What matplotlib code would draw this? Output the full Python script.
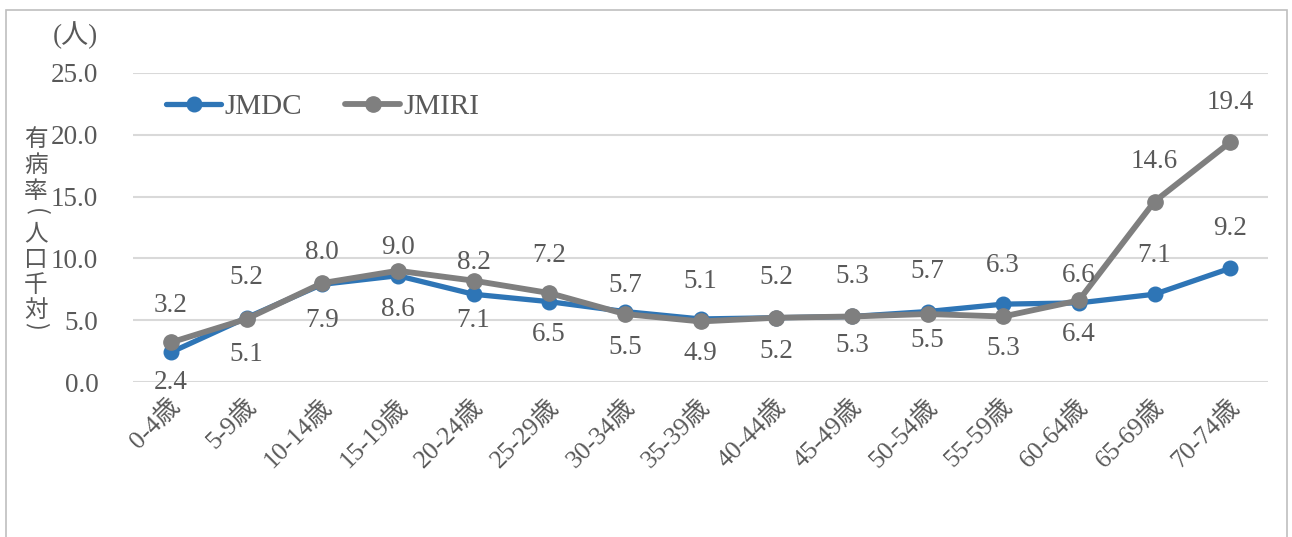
import matplotlib
matplotlib.use("Agg")
import matplotlib.pyplot as plt
import matplotlib.transforms as mtransforms
from matplotlib.patches import Rectangle

# ---- data ----
categories = ["0-4歳", "5-9歳", "10-14歳", "15-19歳", "20-24歳", "25-29歳", "30-34歳",
              "35-39歳", "40-44歳", "45-49歳", "50-54歳", "55-59歳", "60-64歳",
              "65-69歳", "70-74歳"]
jmdc = [2.4, 5.2, 7.9, 8.6, 7.1, 6.5, 5.7, 5.1, 5.2, 5.3, 5.7, 6.3, 6.4, 7.1, 9.2]
jmiri = [3.2, 5.1, 8.0, 9.0, 8.2, 7.2, 5.5, 4.9, 5.2, 5.3, 5.5, 5.3, 6.6, 14.6, 19.4]
yticks = [0, 5, 10, 15, 20, 25]
ylabel_chars = ["有", "病", "率", "(", "人", "口", "千", "対", ")"]

# label offsets in pixels (positive = below the point), layout only
jmdc_off = [30, -40, 36, 34, 26, 33, -26, -37, -40, -40, -40, -39, 32, -39, -40]
jmiri_off = [-37, 36, -31, -23, -18, -38, 33, 32, 34, 29, 26, 32, -25, -40, -40]

W, H = 1292, 537
fig = plt.figure(figsize=(W / 100, H / 100), dpi=100)
ax = fig.add_axes([133 / W, 1 - 382 / H, (1268 - 133) / W, (382 - 73) / H])

TXT = "#595959"
BLUE = "#2E75B6"
GRAY = "#7F7F7F"
FAM = ["Liberation Serif", "Noto Sans CJK JP"]
FS = 19.5

x = list(range(len(categories)))
ax.plot(x, jmdc, color=BLUE, lw=3.8, marker="o", ms=10.5, label="JMDC", zorder=3,
        solid_capstyle="round")
ax.plot(x, jmiri, color=GRAY, lw=4.2, marker="o", ms=11, label="JMIRI", zorder=4,
        solid_capstyle="round")

for xi, v, o in zip(x, jmdc, jmdc_off):
    ax.annotate(f"{v:.1f}", (xi, v), xytext=(0, -o), textcoords="offset pixels",
                ha="center", va="center", fontsize=FS, color=TXT, family=FAM, zorder=5)
for xi, v, o in zip(x, jmiri, jmiri_off):
    ax.annotate(f"{v:.1f}", (xi, v), xytext=(0, -o), textcoords="offset pixels",
                ha="center", va="center", fontsize=FS, color=TXT, family=FAM, zorder=5)

ax.set_xlim(-0.5, len(categories) - 0.5)
ax.set_ylim(0, 25)
ax.set_yticks(yticks)
ax.set_yticklabels([f"{t:.1f}" for t in yticks], fontsize=FS, color=TXT, family=FAM)
ax.yaxis.grid(True, color="#D9D9D9", lw=1.5)
ax.set_axisbelow(True)
for s in ax.spines.values():
    s.set_visible(False)
ax.tick_params(axis="y", length=0, pad=25)
ax.tick_params(axis="x", length=0, pad=15)
ax.set_xticks(x)
ax.set_xticklabels(categories, rotation=45, ha="right", va="center",
                   rotation_mode="anchor", fontsize=18.5, color=TXT, family=FAM)
offset = mtransforms.ScaledTranslation(6 / 100, 0, fig.dpi_scale_trans)
for lab in ax.get_xticklabels():
    lab.set_transform(lab.get_transform() + offset)

# legend
leg = ax.legend(loc="center left", bbox_to_anchor=(166 / W, 1 - 107 / H),
                bbox_transform=fig.transFigure, ncol=2, frameon=False,
                handlelength=1.9, handletextpad=0.12, columnspacing=1.45,
                borderpad=0, borderaxespad=0, prop={"family": FAM, "size": 21})
for t in leg.get_texts():
    t.set_color(TXT)

# y-axis title (vertical stacked, upright characters; brackets turned)
ylab_y = [139, 165, 191, 212, 234, 260, 285, 310, 326]
for ch, yy in zip(ylabel_chars, ylab_y):
    rot = -90 if ch in "()" else 0
    fig.text(36 / W, 1 - yy / H, ch, ha="center", va="center", rotation=rot,
             fontsize=17, color=TXT, family=["Noto Sans CJK JP", "DejaVu Sans"])
fig.text(98 / W, 1 - 35 / H, "(人)", ha="right", va="center", fontsize=FS,
         color=TXT, family=FAM)

# outer border
fig.patches.append(Rectangle((6 / W, -0.05), (1287 - 6) / W, 1.05 - 10 / H,
                             transform=fig.transFigure, fill=False,
                             edgecolor="#BFBFBF", lw=1.2))

fig.savefig("out.png", dpi=100)
